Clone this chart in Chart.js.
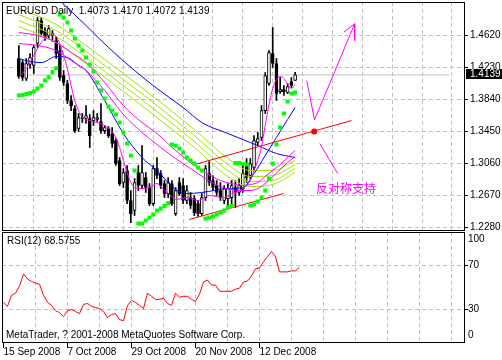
<!DOCTYPE html>
<html lang="en">
<head>
  <meta charset="UTF-8" />
  <title>EURUSD Daily</title>
  <script src="https://cdn.jsdelivr.net/npm/chart.js"></script>
  <style>
    html, body { margin: 0; padding: 0; background: #fff; }
    #wrap { position: relative; width: 502px; height: 360px; overflow: hidden; }
    #mainBox { position: absolute; left: 0; top: 0; width: 502px; height: 231px; }
    #rsiBox { position: absolute; left: 0; top: 231px; width: 502px; height: 129px; }
  </style>
</head>
<body>
  <div id="wrap">
    <div id="mainBox"><canvas id="mainCanvas"></canvas></div>
    <div id="rsiBox"><canvas id="rsiCanvas"></canvas></div>
  </div>

  <script>
    // ---- data ----
    const headerSymbol = 'EURUSD Daily';
    const dateLabels = ['15 Sep 2008', '7 Oct 2008', '29 Oct 2008', '20 Nov 2008', '12 Dec 2008'];
    const dateIdx = [0, 16, 32, 48, 64];
    const gridIdx = [0, 8, 16, 24, 32, 40, 48, 56, 64, 72, 80, 88, 96, 104, 112];
    const priceTicks = [1.2280, 1.2670, 1.3060, 1.3450, 1.3840, 1.4230, 1.4620];
    const rsiTicks = [30, 70];

    const opens = [
      1.4339, 1.4290, 1.4095, 1.4266, 1.4254, 1.4522, 1.4803, 1.4681, 1.4620, 1.4644,
      1.4559, 1.4437, 1.4132, 1.4034, 1.3827, 1.3729, 1.3485, 1.3619, 1.3607, 1.3607,
      1.3582, 1.3595, 1.3570, 1.3460, 1.3485, 1.3424, 1.3338, 1.3094, 1.2826, 1.2972,
      1.2606, 1.2484, 1.2948, 1.2789, 1.2887, 1.2765, 1.2569, 1.2996, 1.2935, 1.2813,
      1.2691, 1.2813, 1.2447, 1.2826, 1.2789, 1.2606, 1.2642, 1.2630, 1.2569, 1.2447,
      1.2642, 1.2935, 1.2850, 1.2789, 1.2728, 1.2606, 1.2630, 1.2642, 1.2765, 1.2704,
      1.2752, 1.3058, 1.2911, 1.3009, 1.3314, 1.3375, 1.3704, 1.4034, 1.4400, 1.4278,
      1.3936, 1.3961, 1.3924, 1.4058, 1.4073
    ];
    const highs = [
      1.4498, 1.4315, 1.4339, 1.4400, 1.4498, 1.4840, 1.4840, 1.4718, 1.4742, 1.4681,
      1.4608, 1.4498, 1.4193, 1.4071, 1.3888, 1.3765, 1.3668, 1.3668, 1.3765, 1.3656,
      1.3704, 1.3668, 1.3790, 1.3521, 1.3509, 1.3497, 1.3363, 1.3131, 1.2996, 1.3033,
      1.2728, 1.2874, 1.3033, 1.3277, 1.2948, 1.2813, 1.3033, 1.3131, 1.2972, 1.2850,
      1.2887, 1.2850, 1.2765, 1.2887, 1.2874, 1.2789, 1.2704, 1.2667, 1.2606, 1.2691,
      1.3033, 1.3094, 1.2911, 1.2850, 1.2826, 1.2789, 1.2813, 1.2850, 1.2850, 1.2874,
      1.3058, 1.3119, 1.3119, 1.3399, 1.3436, 1.3765, 1.4168, 1.4437, 1.4718, 1.4339,
      1.4107, 1.4010, 1.4034, 1.4107, 1.4170
    ];
    const lows = [
      1.4095, 1.4071, 1.4071, 1.4217, 1.4156, 1.4474, 1.4608, 1.4559, 1.4583, 1.4547,
      1.4339, 1.4071, 1.4010, 1.3790, 1.3704, 1.3436, 1.3448, 1.3558, 1.3546, 1.3253,
      1.3521, 1.3570, 1.3424, 1.3424, 1.3375, 1.3253, 1.3033, 1.2789, 1.2765, 1.2569,
      1.2337, 1.2423, 1.2728, 1.2752, 1.2704, 1.2545, 1.2545, 1.2874, 1.2752, 1.2642,
      1.2642, 1.2545, 1.2423, 1.2667, 1.2569, 1.2569, 1.2508, 1.2423, 1.2411, 1.2423,
      1.2606, 1.2789, 1.2728, 1.2667, 1.2606, 1.2569, 1.2545, 1.2545, 1.2520, 1.2667,
      1.2704, 1.2826, 1.2874, 1.2972, 1.3277, 1.3338, 1.3668, 1.4010, 1.4229, 1.3827,
      1.3912, 1.3888, 1.3912, 1.3985, 1.4072
    ];
    const closes = [
      1.4120, 1.4107, 1.4278, 1.4351, 1.4474, 1.4803, 1.4644, 1.4596, 1.4705, 1.4620,
      1.4400, 1.4107, 1.4046, 1.3827, 1.3765, 1.3460, 1.3619, 1.3607, 1.3643, 1.3399,
      1.3619, 1.3619, 1.3460, 1.3497, 1.3399, 1.3302, 1.3058, 1.2813, 1.2948, 1.2606,
      1.2447, 1.2826, 1.2789, 1.2948, 1.2765, 1.2569, 1.2996, 1.2911, 1.2789, 1.2691,
      1.2826, 1.2569, 1.2728, 1.2691, 1.2606, 1.2728, 1.2545, 1.2459, 1.2447, 1.2642,
      1.2996, 1.2826, 1.2765, 1.2704, 1.2642, 1.2752, 1.2752, 1.2789, 1.2704, 1.2789,
      1.2935, 1.2887, 1.3058, 1.3338, 1.3363, 1.3704, 1.4132, 1.4413, 1.4278, 1.3912,
      1.3961, 1.3936, 1.3997, 1.4010, 1.4139
    ];
    const sarValues = [
      1.3888, 1.3894, 1.3906, 1.3918, 1.3936, 1.3973, 1.4010, 1.4071, 1.4111, 1.4172,
      1.4221, 1.4876, 1.4840, 1.4779, 1.4681, 1.4583, 1.4498, 1.4437, 1.4351, 1.4266,
      1.4181, 1.4046, 1.3949, 1.3851, 1.3753, 1.3704, 1.3656, 1.3558, 1.3436, 1.3302,
      1.3155, 1.2972, 1.2325, 1.2325, 1.2362, 1.2398, 1.2435, 1.2484, 1.2508, 1.2539,
      1.2575, 1.3290, 1.3277, 1.3241, 1.3192, 1.3131, 1.3094, 1.3058, 1.3009, 1.2972,
      1.2386, 1.2398, 1.2411, 1.2435, 1.2459, 1.2484, 1.2520, 1.2539, 1.3064, 1.3064,
      1.3052, 1.3045, 1.2545, 1.2557, 1.2594, 1.2642, 1.2728, 1.2874, 1.3058, 1.3290,
      1.3497, 1.3668, 1.3814, 1.3912, 1.3924
    ];
    const rsiValues = [
      36.5, 32.8, 42.9, 44.8, 51.2, 62.3, 57.7, 55.5, 54.0, 53.0,
      43.0, 36.5, 33.7, 29.0, 27.2, 23.5, 29.0, 30.0, 28.2, 26.3,
      34.6, 35.5, 32.8, 31.8, 30.9, 28.2, 22.6, 25.4, 26.3, 20.8,
      19.8, 33.7, 38.3, 36.5, 33.7, 30.9, 44.8, 42.0, 39.2, 39.2,
      40.2, 35.5, 33.7, 44.8, 41.1, 42.0, 42.0, 39.2, 37.4, 43.9,
      55.0, 56.8, 52.2, 52.2, 46.6, 46.6, 46.6, 46.6, 48.5, 49.4,
      55.0, 55.9, 60.5, 67.0, 67.9, 73.4, 78.0, 82.7, 78.0, 64.2,
      64.2, 64.2, 65.1, 65.1, 68.5755
    ];

    // moving averages, [bar index, price]
    const maBlueSlow = [[7, 1.5230], [11, 1.5047], [18, 1.4742], [24, 1.4474], [31, 1.4193], [37, 1.3973],
      [44, 1.3741], [49, 1.3558], [56, 1.3424], [64, 1.3277], [69, 1.3180], [74, 1.3131]];
    const maBlueFast = [[0, 1.4339], [3, 1.4303], [6, 1.4290], [10, 1.4364], [13, 1.4351], [16, 1.4254],
      [18, 1.4193], [23, 1.3827], [28, 1.3424], [33, 1.3131], [37, 1.2972], [42, 1.2740], [45, 1.2691],
      [49, 1.2704], [56, 1.2752], [60, 1.2765], [63, 1.2935], [66, 1.3155], [69, 1.3375], [72, 1.3595], [74, 1.3741]];
    const maPinkFast = [[0, 1.4107], [2, 1.4217], [4, 1.4376], [6, 1.4535], [8, 1.4620], [9, 1.4644], [10, 1.4608],
      [11, 1.4522], [12, 1.4376], [13, 1.4217], [14, 1.4010], [15, 1.3827], [16, 1.3704], [17, 1.3619], [19, 1.3582],
      [21, 1.3558], [23, 1.3521], [25, 1.3448], [26, 1.3375], [27, 1.3253], [28, 1.3094], [29, 1.2948], [30, 1.2826],
      [31, 1.2765], [33, 1.2752], [35, 1.2765], [37, 1.2813], [39, 1.2728], [41, 1.2655], [42, 1.2618], [45, 1.2642],
      [48, 1.2606], [51, 1.2667], [53, 1.2655], [55, 1.2642], [57, 1.2691], [58, 1.2704], [60, 1.2752], [62, 1.2850],
      [63, 1.2972], [64, 1.3094], [65, 1.3265], [66, 1.3521], [67, 1.3778], [68, 1.3973], [69, 1.4083], [70, 1.4120],
      [71, 1.4095], [72, 1.4022], [73, 1.3973], [74, 1.4022]];
    const maPinkMid = [[0, 1.4657], [5, 1.4620], [10, 1.4535], [14, 1.4413], [18, 1.4290], [23, 1.4046], [28, 1.3765],
      [33, 1.3558], [37, 1.3424], [42, 1.3216], [46, 1.3070], [50, 1.2948], [54, 1.2850], [57, 1.2813], [60, 1.2789],
      [62, 1.2801], [64, 1.2826], [66, 1.2899], [68, 1.2972], [70, 1.3045], [72, 1.3131], [74, 1.3216]];
    const maPinkSlow = [[0, 1.4522], [5, 1.4498], [10, 1.4437], [14, 1.4315], [18, 1.4193], [23, 1.3949], [28, 1.3656],
      [33, 1.3436], [37, 1.3290], [42, 1.3119], [46, 1.2996], [50, 1.2874], [54, 1.2777], [57, 1.2740], [60, 1.2728],
      [62, 1.2728], [64, 1.2752], [66, 1.2813], [68, 1.2899], [70, 1.2984], [72, 1.3070], [74, 1.3143]];
    const limeIdx = [0, 10, 18, 28, 37, 47, 56, 62, 68, 74];
    const maLime1 = [1.4950, 1.4754, 1.4498, 1.4156, 1.3839, 1.3473, 1.3119, 1.2972, 1.2972, 1.3094];
    const maLime2 = [1.4876, 1.4681, 1.4425, 1.4083, 1.3765, 1.3399, 1.3045, 1.2899, 1.2911, 1.3045];
    const maLime3 = [1.4803, 1.4608, 1.4351, 1.4010, 1.3692, 1.3326, 1.2972, 1.2838, 1.2850, 1.2996];
    const maLime4 = [1.4730, 1.4535, 1.4278, 1.3936, 1.3619, 1.3253, 1.2899, 1.2777, 1.2801, 1.2948];

    // drawn objects, [bar index, price]
    const trendUpper = [[47.1, 1.3045], [89.1, 1.3582]];
    const trendLower = [[45.6, 1.2374], [70.9, 1.2691]];
    const touchPoint = [[79.1, 1.3448]];
    const arrowPath = [[77.1, 1.4071], [79.2, 1.3590], [89.95, 1.4763]];
    const arrowHead = [[87.05, 1.4660], [89.95, 1.4763], [89.95, 1.4559]];
    const notePointer = [[80.6, 1.3302], [85.4, 1.2935]];
    const noteText = '反对称支持';
    const noteAt = [79.6, 1.2752];

    // ---- chart setup ----
    const FONT = '"Liberation Sans", Arial, sans-serif';
    const X_MIN = -0.375, X_MAX = 115.375;
    const last = closes.length - 1;

    function pairLine(pairs, color) {
      return {
        type: 'line',
        data: pairs.map(p => ({ x: p[0], y: p[1] })),
        borderColor: color, borderWidth: 1,
        pointRadius: 0, cubicInterpolationMode: 'monotone', fill: false
      };
    }
    function straight(pairs, color) {
      const ds = pairLine(pairs, color);
      ds.cubicInterpolationMode = 'default';
      ds.tension = 0;
      return ds;
    }
    const limePairs = vals => vals.map((v, k) => [limeIdx[k], v]);

    const mainDecor = {
      id: 'mainDecor',
      afterDraw(chart) {
        const { ctx, chartArea: a, scales: { x, y } } = chart;
        ctx.save();
        ctx.strokeStyle = '#000';
        ctx.lineWidth = 1;
        ctx.strokeRect(a.left + 0.5, a.top + 0.5, a.right - a.left - 1, a.bottom - a.top - 1);

        ctx.font = '10px ' + FONT;
        ctx.textBaseline = 'middle';
        ctx.fillStyle = '#000';
        const ohlc = [opens[last], highs[last], lows[last], closes[last]].map(v => v.toFixed(4)).join(' ');
        ctx.fillText(headerSymbol + '  ' + ohlc, 6, 11);

        // current price box on the axis
        const py = y.getPixelForValue(closes[last]);
        ctx.fillRect(466, Math.round(py) - 6, 36, 10);
        ctx.fillStyle = '#fff';
        ctx.fillText(closes[last].toFixed(4), 470, Math.round(py) - 1);

        ctx.fillStyle = '#ff00ff';
        ctx.font = '12px "Noto Sans CJK SC", sans-serif';
        ctx.fillText(noteText, x.getPixelForValue(noteAt[0]), y.getPixelForValue(noteAt[1]));
        ctx.restore();
      }
    };

    const rsiDecor = {
      id: 'rsiDecor',
      afterDraw(chart) {
        const { ctx, chartArea: a } = chart;
        ctx.save();
        ctx.strokeStyle = '#000';
        ctx.lineWidth = 1;
        ctx.strokeRect(a.left + 0.5, a.top + 0.5, a.right - a.left - 1, a.bottom - a.top - 1);
        ctx.font = '10px ' + FONT;
        ctx.textBaseline = 'middle';
        ctx.fillStyle = '#000';
        ctx.fillText('RSI(12) ' + rsiValues[last].toFixed(4), 7, 10.5);
        ctx.fillText('MetaTrader, ? 2001-2008 MetaQuotes Software Corp.', 6, 104);
        ctx.fillText('100', 468, 8.5);
        ctx.fillText('0', 468, 104.5);
        ctx.restore();
      }
    };

    const gridColor = c => (c.tick && c.tick.value === 0 ? 'rgba(0,0,0,0)' : '#c0c0c0');

    new Chart(document.getElementById('mainCanvas'), {
      type: 'line',
      data: {
        datasets: [
          {
            type: 'line', showLine: false,
            data: sarValues.map((v, i) => ({ x: i, y: v })),
            pointStyle: 'rect', pointRadius: 2.85, pointBorderWidth: 0,
            pointBackgroundColor: '#00ff00', pointBorderColor: '#00ff00'
          },
          {
            type: 'line', showLine: false,
            data: touchPoint.map(p => ({ x: p[0], y: p[1] })),
            pointRadius: 3, pointBorderWidth: 0, pointBackgroundColor: '#ff0000'
          },
          straight(trendUpper, '#ff0000'),
          straight(trendLower, '#ff0000'),
          straight(arrowPath, '#ff00ff'),
          straight(arrowHead, '#ff00ff'),
          straight(notePointer, '#ff00ff'),
          pairLine(maPinkFast, '#ff00ff'),
          pairLine(maPinkMid, '#ff00ff'),
          pairLine(maPinkSlow, '#ff00ff'),
          pairLine(maBlueFast, '#0000ff'),
          pairLine(maBlueSlow, '#0000ff'),
          pairLine(limePairs(maLime1), '#9be800'),
          pairLine(limePairs(maLime2), '#9be800'),
          pairLine(limePairs(maLime3), '#9be800'),
          pairLine(limePairs(maLime4), '#9be800'),
          {
            type: 'bar',
            data: opens.map((o, i) => ({ x: i, y: [o, closes[i]] })),
            backgroundColor: c => (closes[c.dataIndex] >= opens[c.dataIndex] ? '#ffffff' : '#000000'),
            borderColor: '#000', borderWidth: 1, borderSkipped: false,
            barThickness: 3, maxBarThickness: 3, grouped: false, minBarLength: 1
          },
          {
            type: 'bar',
            data: lows.map((l, i) => ({ x: i, y: [l, highs[i]] })),
            backgroundColor: '#000', borderWidth: 0,
            barThickness: 1, maxBarThickness: 1, grouped: false
          },
          {
            type: 'line',
            data: [{ x: X_MIN, y: closes[last] }, { x: X_MAX, y: closes[last] }],
            borderColor: '#c0c0c0', borderWidth: 1, pointRadius: 0
          }
        ]
      },
      options: {
        responsive: true, maintainAspectRatio: false, animation: false, devicePixelRatio: 1,
        events: [],
        layout: { padding: { left: 2, top: 2, right: 0, bottom: 0 }, autoPadding: false },
        plugins: { legend: { display: false }, tooltip: { enabled: false } },
        scales: {
          x: {
            type: 'linear', min: X_MIN, max: X_MAX,
            afterBuildTicks: s => { s.ticks = gridIdx.map(v => ({ value: v })); },
            ticks: { display: false },
            grid: { color: gridColor, drawTicks: false },
            border: { display: false, dash: [4, 3] },
            afterFit: s => { s.height = 0; s.paddingLeft = 0; s.paddingRight = 0; }
          },
          y: {
            type: 'linear', position: 'right', min: 1.2234, max: 1.5029,
            afterBuildTicks: s => { s.ticks = priceTicks.map(v => ({ value: v })); },
            ticks: { color: '#000', font: { family: FONT, size: 10 }, padding: 2, callback: v => Number(v).toFixed(4) },
            grid: { color: '#c0c0c0', tickColor: '#000', tickLength: 3, tickBorderDash: [] },
            border: { display: false, dash: [4, 3] },
            afterFit: s => { s.width = 37; s.paddingTop = 0; s.paddingBottom = 0; }
          }
        }
      },
      plugins: [mainDecor]
    });

    new Chart(document.getElementById('rsiCanvas'), {
      type: 'line',
      data: {
        datasets: [{
          data: rsiValues.map((v, i) => ({ x: i, y: v })),
          borderColor: '#ff0000', borderWidth: 1, pointRadius: 0, tension: 0
        }]
      },
      options: {
        responsive: true, maintainAspectRatio: false, animation: false, devicePixelRatio: 1,
        events: [],
        layout: { padding: { left: 2, top: 1, right: 0, bottom: 0 }, autoPadding: false },
        plugins: { legend: { display: false }, tooltip: { enabled: false } },
        scales: {
          x: {
            type: 'linear', min: X_MIN, max: X_MAX,
            afterBuildTicks: s => { s.ticks = gridIdx.map(v => ({ value: v })); },
            ticks: {
              color: '#000', font: { family: FONT, size: 10 }, align: 'start',
              autoSkip: false, maxRotation: 0, padding: -1.5,
              callback: v => { const k = dateIdx.indexOf(v); return k >= 0 ? dateLabels[k] : ''; }
            },
            grid: {
              color: gridColor, tickLength: 5, tickBorderDash: [],
              tickColor: c => (c.tick && dateIdx.includes(c.tick.value) ? '#000' : 'rgba(0,0,0,0)')
            },
            border: { display: false, dash: [4, 3] },
            afterFit: s => { s.height = 17; s.paddingLeft = 0; s.paddingRight = 0; }
          },
          y: {
            type: 'linear', position: 'right', min: -0.45, max: 100.45,
            afterBuildTicks: s => { s.ticks = rsiTicks.map(v => ({ value: v })); },
            ticks: { color: '#000', font: { family: FONT, size: 10 }, padding: 0 },
            grid: { color: '#c0c0c0', tickColor: '#000', tickLength: 3, tickBorderDash: [] },
            border: { display: false, dash: [4, 3] },
            afterFit: s => { s.width = 37; s.paddingTop = 0; s.paddingBottom = 0; }
          }
        }
      },
      plugins: [rsiDecor]
    });
  </script>
</body>
</html>
